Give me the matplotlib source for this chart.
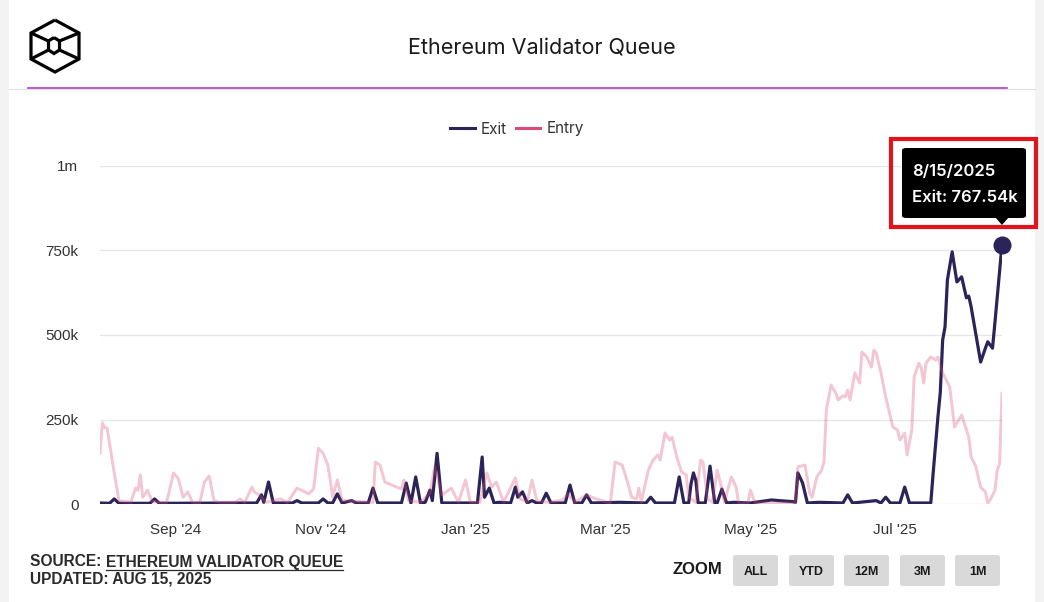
import matplotlib
matplotlib.use("Agg")
import matplotlib.pyplot as plt
import matplotlib.dates as mdates
from matplotlib.patches import FancyBboxPatch, Rectangle, Polygon
from matplotlib.lines import Line2D
import pandas as pd

# ---------------- data (values in thousands) ----------------
entry_dates = [
    "2024-07-31", "2024-08-01", "2024-08-02", "2024-08-03", "2024-08-06", "2024-08-08",
    "2024-08-13", "2024-08-15", "2024-08-16", "2024-08-17", "2024-08-18", "2024-08-20",
    "2024-08-22", "2024-08-28", "2024-08-31", "2024-09-02", "2024-09-04", "2024-09-06",
    "2024-09-08", "2024-09-11", "2024-09-13", "2024-09-15", "2024-09-17", "2024-09-19",
    "2024-09-26", "2024-09-28", "2024-09-30", "2024-10-03", "2024-10-04", "2024-10-06",
    "2024-10-09", "2024-10-15", "2024-10-18", "2024-10-22", "2024-10-27", "2024-10-29",
    "2024-10-31", "2024-11-02", "2024-11-04", "2024-11-05", "2024-11-06", "2024-11-08",
    "2024-11-10", "2024-11-23", "2024-11-24", "2024-11-26", "2024-11-28", "2024-12-01",
    "2024-12-03", "2024-12-05", "2024-12-06", "2024-12-08", "2024-12-13", "2024-12-17",
    "2024-12-19", "2024-12-22", "2024-12-26", "2024-12-29", "2025-01-01", "2025-01-03",
    "2025-01-07", "2025-01-10", "2025-01-12", "2025-01-14", "2025-01-17", "2025-01-22",
    "2025-01-24", "2025-01-27", "2025-01-29", "2025-01-31", "2025-02-05", "2025-02-11",
    "2025-02-13", "2025-02-16", "2025-02-21", "2025-02-25", "2025-03-03", "2025-03-05",
    "2025-03-08", "2025-03-10", "2025-03-12", "2025-03-14", "2025-03-15", "2025-03-16",
    "2025-03-19", "2025-03-21", "2025-03-23", "2025-03-24", "2025-03-26", "2025-03-28",
    "2025-03-29", "2025-03-31", "2025-04-02", "2025-04-04", "2025-04-05", "2025-04-08",
    "2025-04-10", "2025-04-11", "2025-04-13", "2025-04-15", "2025-04-17", "2025-04-19",
    "2025-04-20", "2025-04-23", "2025-04-25", "2025-04-26", "2025-04-30", "2025-05-01",
    "2025-05-03", "2025-05-20", "2025-05-21", "2025-05-24", "2025-05-26", "2025-05-27",
    "2025-05-29", "2025-05-31", "2025-06-01", "2025-06-02", "2025-06-04", "2025-06-06",
    "2025-06-07", "2025-06-09", "2025-06-10", "2025-06-11", "2025-06-12", "2025-06-14",
    "2025-06-16", "2025-06-17", "2025-06-19", "2025-06-21", "2025-06-22", "2025-06-23",
    "2025-06-25", "2025-06-27", "2025-06-30", "2025-07-02", "2025-07-03", "2025-07-05",
    "2025-07-06", "2025-07-08", "2025-07-09", "2025-07-11", "2025-07-12", "2025-07-13",
    "2025-07-14", "2025-07-16", "2025-07-18", "2025-07-19", "2025-07-21", "2025-07-24",
    "2025-07-26", "2025-07-29", "2025-08-01", "2025-08-02", "2025-08-04", "2025-08-06",
    "2025-08-08", "2025-08-09", "2025-08-10", "2025-08-12", "2025-08-13", "2025-08-14",
    "2025-08-15",
]
entry_values = [
    151, 240, 225, 225, 92, 10,
    5, 47, 40, 86, 20, 41,
    8, 3, 92, 75, 20, 36,
    5, 3, 65, 83, 10, 5,
    5, 15, 5, 50, 36, 27,
    5, 15, 5, 47, 30, 45,
    165, 150, 115, 71, 20, 71,
    10, 5, 124, 115, 65, 56,
    50, 45, 71, 10, 5, 32,
    110, 27, 47, 5, 71, 5,
    5, 92, 50, 65, 5, 77,
    15, 5, 71, 10, 5, 12,
    30, 5, 27, 15, 3, 124,
    115, 71, 20, 15, 47, 5,
    100, 130, 145, 130, 210, 189,
    198, 139, 95, 86, 20, 5,
    130, 125, 15, 5, 100, 45,
    5, 80, 50, 3, 3, 41,
    3, 3, 110, 115, 32, 20,
    80, 100, 124, 278, 352, 328,
    308, 320, 317, 337, 308, 388,
    358, 450, 435, 405, 455, 447,
    388, 317, 228, 219, 189, 210,
    145, 219, 376, 417, 402, 358,
    417, 435, 426, 435, 388, 346,
    228, 263, 198, 139, 110, 50,
    36, 3, 12, 40, 100, 120,
    328,
]

exit_dates = [
    "2024-07-31", "2024-08-04", "2024-08-06", "2024-08-08", "2024-08-21", "2024-08-23",
    "2024-08-25", "2024-10-05", "2024-10-07", "2024-10-08", "2024-10-10", "2024-10-12",
    "2024-10-20", "2024-10-22", "2024-10-24", "2024-10-31", "2024-11-02", "2024-11-04",
    "2024-11-06", "2024-11-08", "2024-11-10", "2024-11-14", "2024-11-16", "2024-11-21",
    "2024-11-23", "2024-11-25", "2024-12-05", "2024-12-07", "2024-12-09", "2024-12-11",
    "2024-12-13", "2024-12-15", "2024-12-17", "2024-12-18", "2024-12-20", "2024-12-22",
    "2025-01-06", "2025-01-08", "2025-01-09", "2025-01-11", "2025-01-13", "2025-01-15",
    "2025-01-20", "2025-01-22", "2025-01-23", "2025-01-25", "2025-01-27", "2025-01-29",
    "2025-01-31", "2025-02-02", "2025-02-04", "2025-02-06", "2025-02-12", "2025-02-14",
    "2025-02-16", "2025-02-19", "2025-02-21", "2025-02-23", "2025-03-07", "2025-03-18",
    "2025-03-20", "2025-03-22", "2025-03-30", "2025-04-01", "2025-04-03", "2025-04-05",
    "2025-04-06", "2025-04-07", "2025-04-08", "2025-04-09", "2025-04-12", "2025-04-14",
    "2025-04-16", "2025-04-17", "2025-04-19", "2025-04-21", "2025-04-24", "2025-05-01",
    "2025-05-10", "2025-05-13", "2025-05-19", "2025-05-20", "2025-05-21", "2025-05-23",
    "2025-05-25", "2025-05-30", "2025-06-09", "2025-06-11", "2025-06-13", "2025-06-23",
    "2025-06-25", "2025-06-27", "2025-06-29", "2025-07-03", "2025-07-05", "2025-07-07",
    "2025-07-16", "2025-07-17", "2025-07-19", "2025-07-20", "2025-07-21", "2025-07-22",
    "2025-07-23", "2025-07-25", "2025-07-27", "2025-07-29", "2025-07-31", "2025-08-01",
    "2025-08-02", "2025-08-06", "2025-08-08", "2025-08-09", "2025-08-11", "2025-08-12",
    "2025-08-15",
]
exit_values = [
    3, 2, 15, 2, 2, 15,
    2, 3, 27, 5, 65, 3,
    3, 10, 3, 3, 15, 3,
    3, 30, 3, 10, 3, 3,
    47, 3, 3, 62, 3, 80,
    3, 5, 41, 10, 150, 3,
    3, 139, 20, 47, 3, 5,
    3, 50, 20, 36, 3, 10,
    3, 3, 32, 3, 3, 56,
    3, 3, 27, 3, 5, 3,
    20, 3, 3, 80, 3, 3,
    60, 92, 70, 3, 3, 112,
    3, 3, 44, 3, 5, 3,
    12, 10, 7, 5, 92, 62,
    3, 5, 3, 27, 3, 10,
    3, 20, 3, 3, 50, 3,
    3, 92, 257, 330, 485, 524,
    663, 746, 657, 672, 610, 615,
    583, 420, 461, 480, 461, 535,
    767.54,
]

series_names = ["Exit", "Entry"]
y_ticks = [0, 250, 500, 750, 1000]
y_tick_labels = ["0", "250k", "500k", "750k", "1m"]
tooltip_date = "8/15/2025"
title = "Ethereum Validator Queue"
zoom_buttons = ["ALL", "YTD", "12M", "3M", "1M"]

# ---------------- styling ----------------
W, H = 1044, 602
EXIT_C = "#2b2459"
ENTRY_C = "#dd4b73"
TXT = "#333333"
FOOT = "Liberation Sans"

fig = plt.figure(figsize=(W / 100, H / 100), dpi=100)
fig.patch.set_facecolor("white")


def fx(x):
    return x / W


def fy(y):
    return 1 - y / H


# side light grey strips
fig.patches.append(Rectangle((0, 0), fx(9), 1, transform=fig.transFigure,
                             facecolor="#f3f3f3", edgecolor="none", zorder=0))
fig.patches.append(Rectangle((fx(1035), 0), fx(9), 1, transform=fig.transFigure,
                             facecolor="#f3f3f3", edgecolor="none", zorder=0))


def fig_line(xs, ys, **kw):
    fig.lines.append(Line2D([fx(v) for v in xs], [fy(v) for v in ys],
                            transform=fig.transFigure, **kw))


# logo (outline cube)
lk = dict(color="black", lw=2.3, solid_joinstyle="miter", solid_capstyle="butt")
fig_line([55, 79, 79, 55, 31, 31, 55], [20, 33, 59, 72, 59, 33, 20], **lk)
fig_line([54, 59.5, 59.5, 54, 48.5, 48.5, 54], [37.5, 41, 50, 53.5, 50, 41, 37.5], **lk)
fig_line([31, 48.5], [33, 41], **lk)
fig_line([79, 59.5], [33, 41], **lk)
fig_line([31, 48.5], [59, 50], **lk)
fig_line([79, 59.5], [59, 50], **lk)

# title
fig.text(fx(542), fy(48), title, ha="center", va="center", fontsize=15.5,
         family="Inter", color="#1a1a1a")

# header separator lines
fig_line([9, 1035], [89, 89], color="#e2e2e2", lw=0.8)
fig_line([28, 1007], [88, 88], color="#b23cc9", lw=1.2)

# ---------------- axes ----------------
ax = fig.add_axes([fx(100), fy(504), fx(1002) - fx(100), fy(166) - fy(504)])
ax.set_facecolor("none")

ed = pd.to_datetime(exit_dates)
nd = pd.to_datetime(entry_dates)

ax.plot(ed, exit_values, color=EXIT_C, lw=2.3, zorder=3, solid_joinstyle="round")
ax.plot(nd, entry_values, color=ENTRY_C, lw=2.1, alpha=0.32, zorder=4,
        solid_joinstyle="round")
ax.plot(ed[-1], exit_values[-1], "o", ms=12, color=EXIT_C, zorder=6, clip_on=False)

ax.set_xlim(ed[0], ed[-1])
ax.set_ylim(0, 1000)
ax.set_yticks(y_ticks)
ax.set_yticklabels(y_tick_labels)
ax.grid(axis="y", color="#e6e6e6", lw=0.9)
ax.set_axisbelow(True)
for s in ax.spines.values():
    s.set_visible(False)
ax.xaxis.set_major_locator(mdates.MonthLocator(bymonth=[1, 3, 5, 7, 9, 11]))
ax.xaxis.set_major_formatter(mdates.DateFormatter("%b '%y"))
ax.tick_params(axis="both", length=0, labelsize=11, labelcolor=TXT)
ax.tick_params(axis="x", pad=14)
ax.tick_params(axis="y", pad=15.5)
for lab in ax.get_xticklabels() + ax.get_yticklabels():
    lab.set_family("Liberation Sans")

# legend
leg_handles = [Line2D([], [], color=EXIT_C, lw=2.2), Line2D([], [], color=ENTRY_C, lw=2.2)]
leg = fig.legend(leg_handles, series_names, loc="center", bbox_to_anchor=(fx(517), fy(129)),
                 ncol=2, frameon=False, handlelength=1.6, handletextpad=0.4,
                 columnspacing=0.6, prop={"family": "Inter", "size": 11})
for t in leg.get_texts():
    t.set_color(TXT)

# tooltip
fig.patches.append(FancyBboxPatch((fx(902), fy(218)), fx(1026) - fx(902), fy(148) - fy(218),
                                  boxstyle="round,pad=0,rounding_size=0.004",
                                  transform=fig.transFigure, facecolor="black",
                                  edgecolor="none", zorder=10))
fig.patches.append(Polygon([(fx(995), fy(217)), (fx(1009), fy(217)), (fx(1002), fy(225))],
                           closed=True, transform=fig.transFigure, facecolor="black",
                           edgecolor="none", zorder=10))
fig.text(fx(912), fy(171), tooltip_date, ha="left", va="center", fontsize=12,
         color="white", family="Inter", weight="semibold", zorder=11)
fig.text(fx(912), fy(197), f"Exit: {exit_values[-1]:.2f}k", ha="left", va="center",
         fontsize=12, color="white", family="Inter", weight="semibold", zorder=11)
fig.patches.append(Rectangle((fx(891), fy(227)), fx(1036) - fx(891), fy(139) - fy(227),
                             transform=fig.transFigure, facecolor="none",
                             edgecolor="#e3131b", lw=3.0, zorder=12))

# footer source
renderer = fig.canvas.get_renderer()
t1 = fig.text(fx(30), fy(562), "SOURCE: ", ha="left", va="center", fontsize=11.2,
              family=FOOT, weight="bold", color="#2a2a2a")
bb1 = t1.get_window_extent(renderer)
t2 = fig.text(bb1.x1 / W, fy(562), "ETHEREUM VALIDATOR QUEUE", ha="left", va="center",
              fontsize=11.2, family=FOOT, weight="bold", color="#2a2a2a")
bb2 = t2.get_window_extent(renderer)
fig_line([bb2.x0, bb2.x1], [569.5, 569.5], color="#2a2a2a", lw=0.9)
fig.text(fx(30), fy(579), "UPDATED: AUG 15, 2025", ha="left", va="center", fontsize=11.2,
         family=FOOT, weight="bold", color="#2a2a2a")

# zoom buttons
fig.text(fx(722), fy(570), "ZOOM", ha="right", va="center", fontsize=12,
         family=FOOT, weight="bold", color="#1a1a1a")
btn_left = [733, 789, 844, 900, 955]
for x0, lab in zip(btn_left, zoom_buttons):
    fig.patches.append(FancyBboxPatch((fx(x0), fy(586)), fx(45), fy(555) - fy(586),
                                      boxstyle="round,pad=0,rounding_size=0.003",
                                      transform=fig.transFigure, facecolor="#d9d9d9",
                                      edgecolor="none"))
    fig.text(fx(x0 + 22.5), fy(572), lab, ha="center", va="center", fontsize=9,
             family=FOOT, weight="bold", color="#1a1a1a")

fig.savefig("out.png", dpi=100, facecolor="white")
